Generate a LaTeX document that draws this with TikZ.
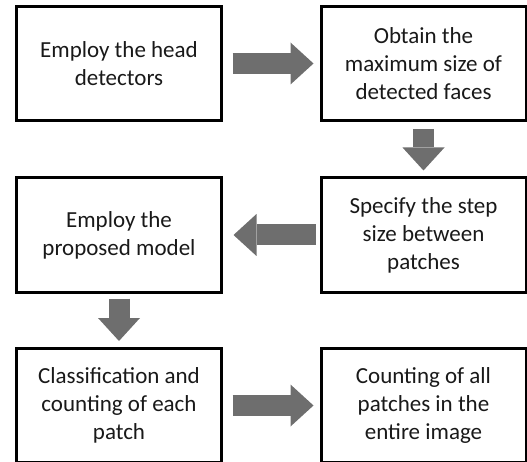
\documentclass[tikz,border=0pt]{standalone}
\usepackage{fontspec}
\setmainfont{Carlito}
\usetikzlibrary{
  arrows.meta,
  positioning
}
\usepackage{xcolor}
\definecolor{arrowGray}{rgb}{0.43,0.43,0.43}
\tikzset{
  stepBox/.style={
    rectangle,
    draw,
    line width=3pt,
    minimum width=205pt,
    minimum height=114pt,
    align=center,
    font=\fontsize{23}{28}\selectfont,
    text=black!90
  }
}
\tikzset{
  blockArrow/.style={
    draw=arrowGray,
    line width=21pt,
    -{Triangle[length=23pt,width=42pt,line width=0pt]}
  }
}

\begin{document}
\begin{tikzpicture}[x=1pt, y=-1pt]
    \useasboundingbox (0,0) rectangle (527,462);

    \node[stepBox] (detect) at (119,63.5) {Employ the head\\detectors};
    \node[stepBox] (maxsize) at (423.5,63.5) {Obtain the\\maximum size of\\detected faces};
    \node[stepBox] (stepsize) at (423.5,235) {Specify the step\\size between\\patches};
    \node[stepBox] (model) at (119,235) {Employ the\\proposed model};
    \node[stepBox] (classify) at (119,405.5) {Classification and\\counting of each\\patch};
    \node[stepBox] (count) at (423.5,405.5) {Counting of all\\patches in the\\entire image};

    \foreach \from/\to/\s/\e in {detect/maxsize/9.5/6, maxsize/stepsize/7/6,
      stepsize/model/4/10.5, model/classify/5/6, classify/count/9.5/6}{%
        \draw[blockArrow, shorten <=\s pt, shorten >=\e pt] (\from) -- (\to);%
    }
  \end{tikzpicture}
\end{document}
